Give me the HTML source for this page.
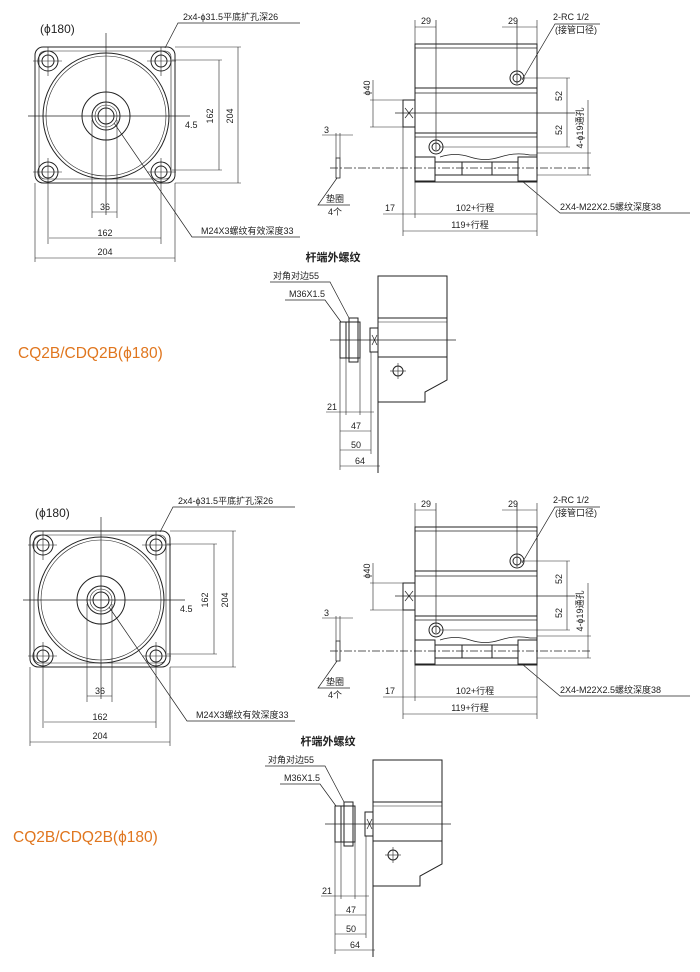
<!DOCTYPE html>
<html><head><meta charset="utf-8"><style>
html,body{margin:0;padding:0;background:#fff;}
svg{display:block;}
text{font-family:"Liberation Sans","Noto Sans CJK SC",sans-serif;fill:#222;}
.t{font-size:9px;}
</style></head><body>
<svg width="700" height="972" viewBox="0 0 700 972" xmlns="http://www.w3.org/2000/svg">
<defs>
<g id="L" stroke="#222" stroke-width="1" fill="none">
  <rect x="35" y="47" width="140" height="136" rx="8"/>
  <rect x="39" y="51" width="132" height="128" rx="6" stroke-width="0.6"/>
  <circle cx="106" cy="116" r="63"/>
  <circle cx="106" cy="116" r="60" stroke-width="0.6"/>
  <circle cx="106" cy="116" r="24"/>
  <circle cx="106" cy="116" r="14"/>
  <circle cx="106" cy="116" r="11" stroke-width="0.6"/>
  <circle cx="106" cy="116" r="8"/>
  <circle cx="48" cy="61" r="10"/><circle cx="48" cy="61" r="6"/>
  <circle cx="161" cy="61" r="10"/><circle cx="161" cy="61" r="6"/>
  <circle cx="48" cy="172" r="10"/><circle cx="48" cy="172" r="6"/>
  <circle cx="161" cy="172" r="10"/><circle cx="161" cy="172" r="6"/>
  <line x1="106" y1="33" x2="106" y2="215" stroke-width="0.7"/>
  <line x1="28" y1="116" x2="190" y2="116" stroke-width="0.7"/>
  <line x1="33" y1="61" x2="62" y2="61" stroke-width="0.6"/><line x1="48" y1="47" x2="48" y2="76" stroke-width="0.6"/>
  <line x1="147" y1="61" x2="176" y2="61" stroke-width="0.6"/><line x1="161" y1="47" x2="161" y2="76" stroke-width="0.6"/>
  <line x1="33" y1="172" x2="62" y2="172" stroke-width="0.6"/><line x1="48" y1="158" x2="48" y2="244" stroke-width="0.6"/>
  <line x1="147" y1="172" x2="176" y2="172" stroke-width="0.6"/><line x1="161" y1="158" x2="161" y2="244" stroke-width="0.6"/>
  <line x1="92" y1="120" x2="92" y2="218" stroke-width="0.6"/><line x1="117" y1="120" x2="117" y2="218" stroke-width="0.6"/>
  <line x1="35" y1="183" x2="35" y2="262" stroke-width="0.6"/><line x1="175" y1="183" x2="175" y2="262" stroke-width="0.6"/>
  <line x1="92" y1="212" x2="117" y2="212" stroke-width="0.6"/>
  <line x1="49" y1="238" x2="161" y2="238" stroke-width="0.6"/>
  <line x1="35" y1="258" x2="175" y2="258" stroke-width="0.6"/>
  <line x1="172" y1="60" x2="222" y2="60" stroke-width="0.6"/><line x1="172" y1="170" x2="222" y2="170" stroke-width="0.6"/>
  <line x1="175" y1="47" x2="241" y2="47" stroke-width="0.6"/><line x1="175" y1="183" x2="241" y2="183" stroke-width="0.6"/>
  <line x1="219" y1="60" x2="219" y2="170" stroke-width="0.6"/>
  <line x1="238" y1="47" x2="238" y2="183" stroke-width="0.6"/>
  <polyline points="165,48 178,23 300,23" stroke-width="0.7"/>
  <polyline points="114,123 192,237 300,237" stroke-width="0.7"/>
  <polyline points="378,473 378,276 447,276 447,380 425,392 425,402 378,402" />
  <line x1="378" y1="318" x2="447" y2="318"/><line x1="378" y1="322" x2="447" y2="322" stroke-width="0.6"/>
  <line x1="378" y1="357" x2="447" y2="357"/>
  <rect x="340" y="322" width="20" height="36"/>
  <path d="M346,322 L346,358 M349,318 h9 v44 h-9 z" />
  <rect x="370" y="328" width="8" height="24"/>
  <path d="M372,335 l5,10 M377,335 l-5,10" stroke-width="0.7"/>
  <line x1="330" y1="340" x2="456" y2="340" stroke-width="0.7"/>
  <circle cx="398" cy="371" r="5"/><line x1="390" y1="371" x2="406" y2="371" stroke-width="0.6"/><line x1="398" y1="363" x2="398" y2="379" stroke-width="0.6"/>
  <line x1="340" y1="358" x2="340" y2="470" stroke-width="0.6"/>
  <line x1="346" y1="358" x2="346" y2="415" stroke-width="0.6"/>
  <line x1="360" y1="358" x2="360" y2="415" stroke-width="0.6"/>
  <line x1="371" y1="352" x2="371" y2="454" stroke-width="0.6"/>
  <line x1="326" y1="412" x2="374" y2="412" stroke-width="0.6"/>
  <line x1="340" y1="431" x2="371" y2="431" stroke-width="0.6"/>
  <line x1="340" y1="450" x2="371" y2="450" stroke-width="0.6"/>
  <line x1="340" y1="466" x2="380" y2="466" stroke-width="0.6"/>
  <polyline points="270,282 330,282 349,318" stroke-width="0.7"/>
  <polyline points="285,300 325,300 341,322" stroke-width="0.7"/>
</g>
<g id="LT">
  <text x="40" y="33" font-size="12">(ϕ180)</text>
  <text class="t" x="183" y="20" font-size="8.5">2x4-ϕ31.5平底扩孔深26</text>
  <text class="t" x="185" y="128">4.5</text>
  <text class="t" x="213" y="116" transform="rotate(-90 213 116)" text-anchor="middle">162</text>
  <text class="t" x="233" y="116" transform="rotate(-90 233 116)" text-anchor="middle">204</text>
  <text class="t" x="105" y="210" text-anchor="middle">36</text>
  <text class="t" x="105" y="236" text-anchor="middle">162</text>
  <text class="t" x="105" y="255" text-anchor="middle">204</text>
  <text class="t" x="201" y="234" font-size="8.5">M24X3螺纹有效深度33</text>
  <text x="333" y="261" font-size="11" font-weight="bold" text-anchor="middle">杆端外螺纹</text>
  <text class="t" x="273" y="279">对角对边55</text>
  <text class="t" x="289" y="297">M36X1.5</text>
  <text class="t" x="327" y="410">21</text>
  <text class="t" x="356" y="429" text-anchor="middle">47</text>
  <text class="t" x="356" y="448" text-anchor="middle">50</text>
  <text class="t" x="360" y="464" text-anchor="middle">64</text>
  <text x="18" y="358" font-size="15.5" style="fill:#e0761e">CQ2B/CDQ2B(ϕ180)</text>
</g>
<g id="R" stroke="#222" stroke-width="1" fill="none">
  <rect x="415" y="44" width="122" height="138"/>
  <line x1="415" y1="48" x2="537" y2="48" stroke-width="0.7"/>
  <line x1="415" y1="88" x2="537" y2="88"/><line x1="415" y1="93" x2="537" y2="93" stroke-width="0.7"/>
  <line x1="415" y1="133" x2="537" y2="133"/><line x1="415" y1="137" x2="537" y2="137" stroke-width="0.7"/>
  <path d="M440,157 q15,-5 30,0 t30,0 t30,-2 L537,155" stroke-width="0.8"/>
  <rect x="415" y="157" width="20" height="24"/><rect x="518" y="157" width="19" height="24"/>
  <line x1="435" y1="162" x2="518" y2="162"/><line x1="435" y1="175" x2="518" y2="175"/>
  <line x1="462" y1="162" x2="462" y2="175"/><line x1="492" y1="162" x2="492" y2="175"/>
  <circle cx="517" cy="78" r="7"/><circle cx="517" cy="78" r="4"/>
  <circle cx="436" cy="147" r="7"/><circle cx="436" cy="147" r="4"/>
  <line x1="436" y1="20" x2="436" y2="150" stroke-width="0.7"/>
  <line x1="517" y1="20" x2="517" y2="84" stroke-width="0.7"/>
  <line x1="415" y1="20" x2="415" y2="44" stroke-width="0.6"/>
  <line x1="537" y1="20" x2="537" y2="44" stroke-width="0.6"/>
  <line x1="415" y1="27" x2="436" y2="27" stroke-width="0.6"/><line x1="502" y1="27" x2="537" y2="27" stroke-width="0.6"/>
  <rect x="403" y="100" width="12" height="27"/>
  <path d="M405,108 l8,10 M413,108 l-8,10" stroke-width="0.7"/>
  <line x1="395" y1="113" x2="575" y2="113" stroke-width="0.7"/>
  <line x1="370" y1="100" x2="403" y2="100" stroke-width="0.6"/><line x1="370" y1="127" x2="403" y2="127" stroke-width="0.6"/>
  <line x1="373" y1="80" x2="373" y2="127" stroke-width="0.6"/>
  <line x1="520" y1="78" x2="570" y2="78" stroke-width="0.6"/><line x1="440" y1="147" x2="570" y2="147" stroke-width="0.6"/>
  <line x1="567" y1="78" x2="567" y2="147" stroke-width="0.6"/>
  <line x1="537" y1="153" x2="591" y2="153" stroke-width="0.6"/><line x1="537" y1="175" x2="591" y2="175" stroke-width="0.6"/>
  <line x1="588" y1="100" x2="588" y2="175" stroke-width="0.6"/>
  <line x1="330" y1="168" x2="590" y2="168" stroke-width="0.7" stroke-dasharray="8,2,2,2"/>
  <rect x="336" y="158" width="4" height="20" stroke-width="0.8"/>
  <line x1="336" y1="133" x2="336" y2="158" stroke-width="0.6"/><line x1="340" y1="133" x2="340" y2="158" stroke-width="0.6"/>
  <line x1="322" y1="135" x2="353" y2="135" stroke-width="0.6"/>
  <polyline points="337,178 318,205 350,205" stroke-width="0.7"/>
  <line x1="403" y1="127" x2="403" y2="236" stroke-width="0.6"/>
  <line x1="415" y1="182" x2="415" y2="218" stroke-width="0.6"/>
  <line x1="537" y1="182" x2="537" y2="236" stroke-width="0.6"/>
  <line x1="383" y1="214" x2="537" y2="214" stroke-width="0.6"/>
  <line x1="403" y1="231" x2="537" y2="231" stroke-width="0.6"/>
  <polyline points="522,80 555,24 600,24" stroke-width="0.7"/>
  <polyline points="522,181 560,213 690,213" stroke-width="0.7"/>
</g>
<g id="RT">
  <text class="t" x="431" y="24" text-anchor="end">29</text>
  <text class="t" x="508" y="24">29</text>
  <text class="t" x="553" y="20">2-RC 1/2</text>
  <text class="t" x="555" y="33" font-size="8.5">(接管口径)</text>
  <text class="t" x="370" y="88" transform="rotate(-90 370 88)" text-anchor="middle">ϕ40</text>
  <text class="t" x="562" y="96" transform="rotate(-90 562 96)" text-anchor="middle">52</text>
  <text class="t" x="562" y="130" transform="rotate(-90 562 130)" text-anchor="middle">52</text>
  <text class="t" x="583" y="128" transform="rotate(-90 583 128)" text-anchor="middle">4-ϕ19通孔</text>
  <text class="t" x="324" y="133">3</text>
  <text class="t" x="326" y="202">垫圈</text>
  <text class="t" x="328" y="215">4个</text>
  <text class="t" x="385" y="211">17</text>
  <text class="t" x="475" y="211" text-anchor="middle">102+行程</text>
  <text class="t" x="470" y="228" text-anchor="middle">119+行程</text>
  <text class="t" x="560" y="210" font-size="8.5">2X4-M22X2.5螺纹深度38</text>
</g>
</defs>
<use href="#L"/><use href="#LT"/><use href="#R"/><use href="#RT"/>
<g transform="translate(-5,484)"><use href="#L"/><use href="#LT"/></g>
<g transform="translate(0,483)"><use href="#R"/><use href="#RT"/></g>
</svg>
</body></html>
